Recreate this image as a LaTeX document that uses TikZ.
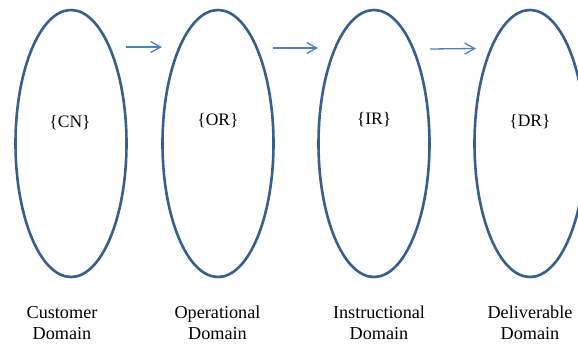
\documentclass[tikz,border=0pt]{standalone}
\usepackage{fontspec}
\setmainfont{Liberation Serif}
\usetikzlibrary{shapes.geometric,arrows.meta}
\definecolor{ringblue}{RGB}{56,94,140}
\definecolor{flowblue}{RGB}{79,129,189}
\begin{document}
\begin{tikzpicture}[x=1pt,y=-1pt,
  domainring/.style={ellipse,draw=ringblue,line width=2.6pt,minimum width=111pt,minimum height=267pt,inner sep=0pt},
  setlabel/.style={font=\fontsize{17.5}{20}\selectfont,text=black},
  caption/.style={font=\fontsize{18.2}{21.5}\selectfont,align=center,text=black},
  flow/.style={draw=flowblue,line width=1.3pt,-{Straight Barb[length=10pt,width=11pt,line width=1.3pt]}}]
\useasboundingbox (0,0) rectangle (578,345);
\fill[white] (0,0) rectangle (578,345);
% the four domains
\node[domainring] (cd) at (71,143.5) {};
\node[domainring] (od) at (218,143.5) {};
\node[domainring] (id) at (374,143.5) {};
\node[domainring] (dd) at (530,143.5) {};
% set labels
\node[setlabel] (cn) at (70,123) {\{CN\}};
\node[setlabel] (or) at (218,121) {\{OR\}};
\node[setlabel] (ir) at (374,120) {\{IR\}};
\node[setlabel] (dr) at (530,122) {\{DR\}};
% domain names
\node[caption] (cdn) at (62,323) {Customer\\Domain};
\node[caption] (odn) at (217.5,323) {Operational\\Domain};
\node[caption] (idn) at (379,323) {Instructional\\Domain};
\node[caption] (ddn) at (530,323) {Deliverable\\Domain};
% flow between domains
\coordinate (a1s) at (126,47);
\coordinate (a1e) at (162,47);
\coordinate (a2s) at (273,48);
\coordinate (a2e) at (318,48);
\coordinate (a3s) at (430,49);
\coordinate (a3e) at (476,48.5);
\draw[flow] (a1s) -- (a1e);
\draw[flow] (a2s) -- (a2e);
\draw[flow] (a3s) -- (a3e);
\end{tikzpicture}
\end{document}
